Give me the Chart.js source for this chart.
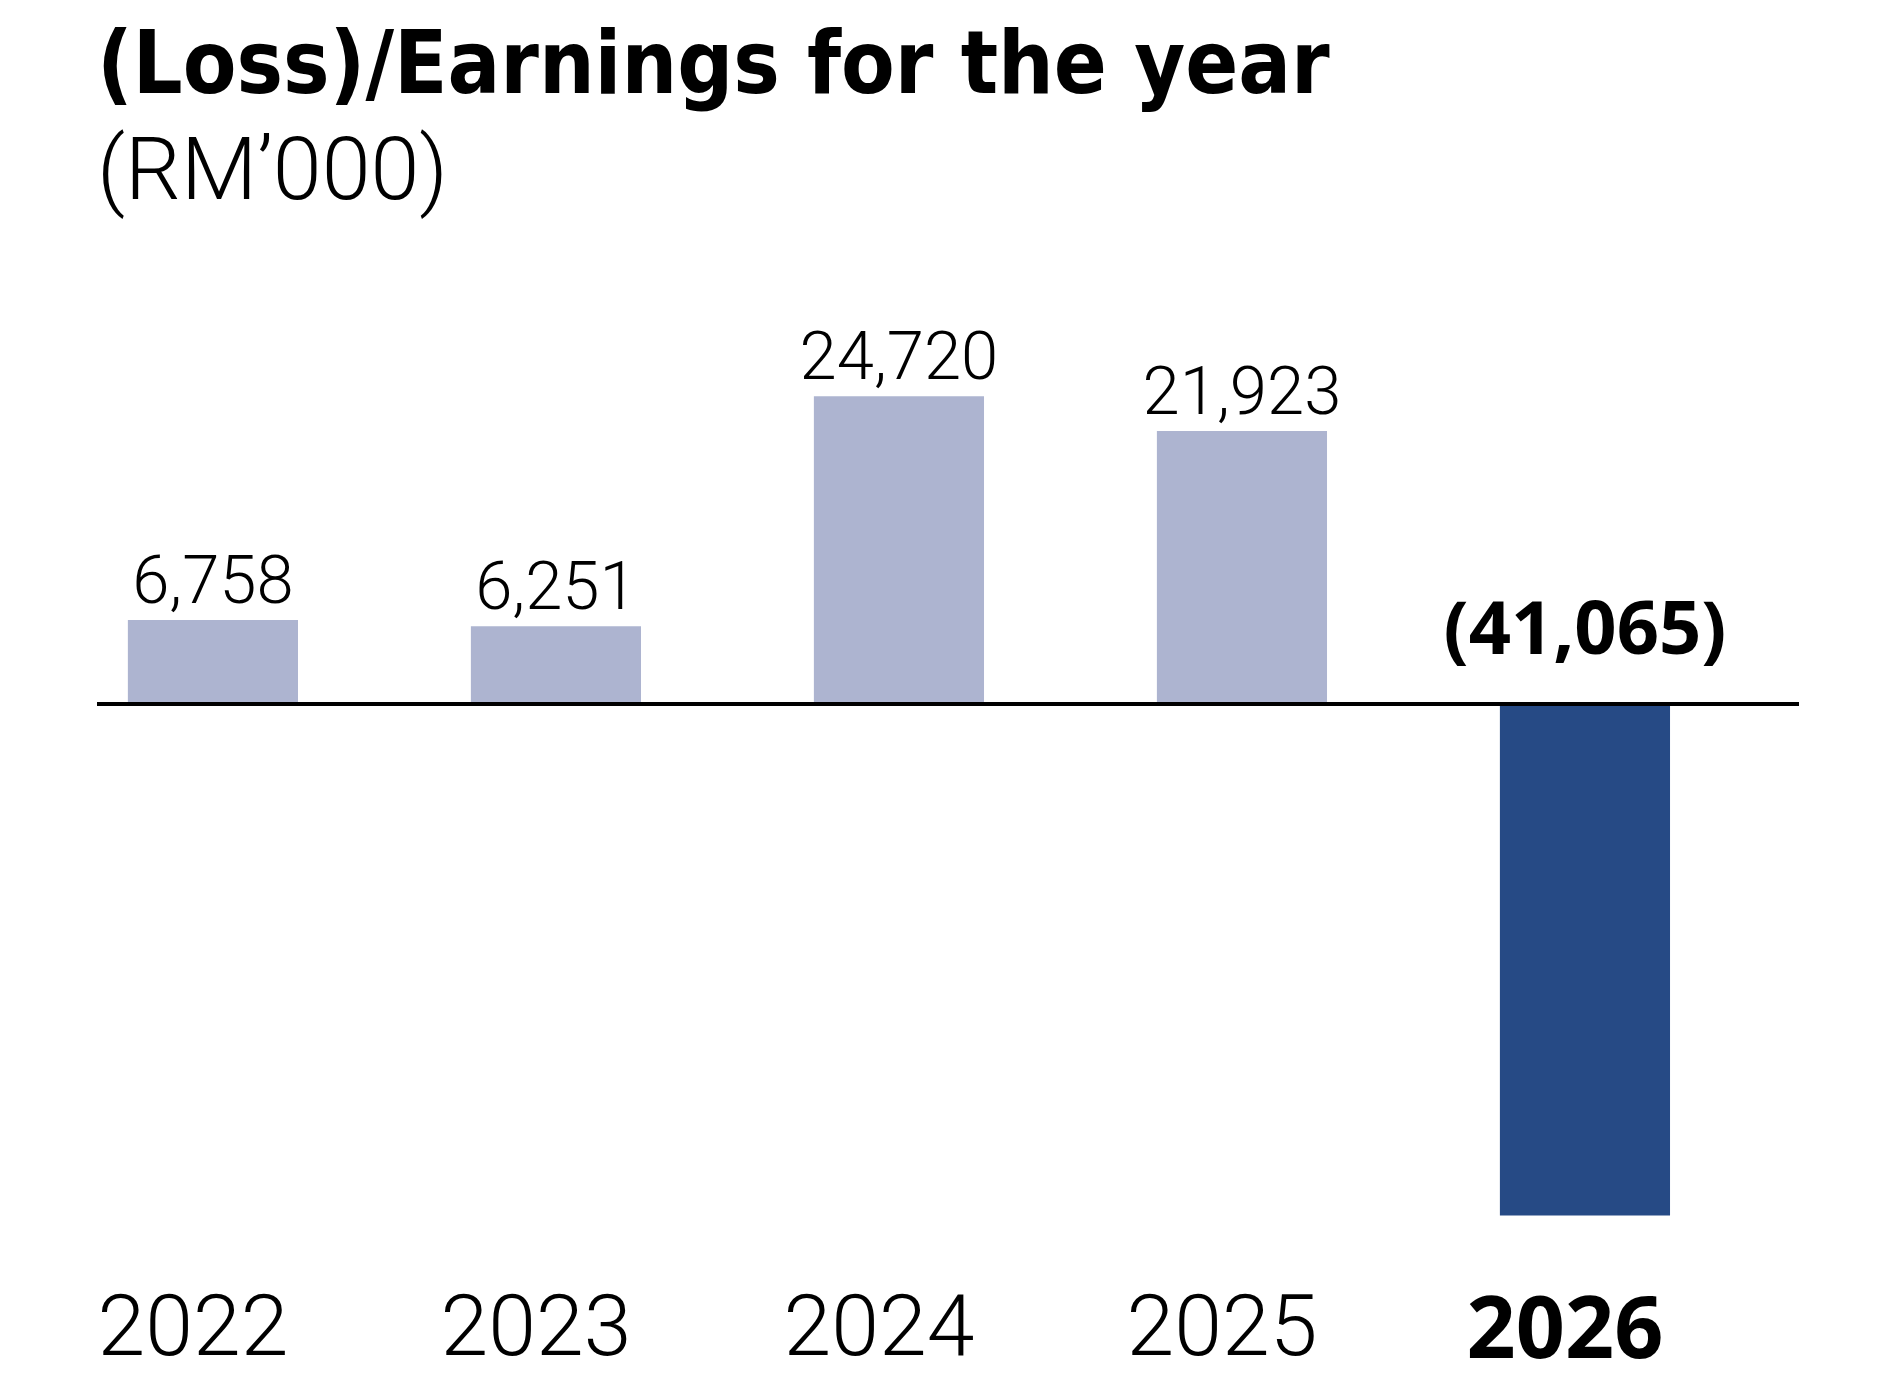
<!DOCTYPE html>
<html>
<head>
<meta charset="utf-8">
<script src="https://cdn.jsdelivr.net/npm/chart.js@4.4.1/dist/chart.umd.min.js"></script>
<style>
  html, body { margin: 0; padding: 0; background: #fff; }
  #wrap { width: 1896px; height: 1384px; }
</style>
</head>
<body>
<div id="wrap"><canvas id="earnings"></canvas></div>
<script>
// (Loss)/Earnings for the year, RM'000
var years = ["2022", "2023", "2024", "2025", "2026"];
var earnings = [6758, 6251, 24720, 21923, -41065];
var barColors = ["#ADB4D0", "#ADB4D0", "#ADB4D0", "#ADB4D0", "#264A85"];

var lightFont = "Roboto, 'Open Sans', sans-serif";
var boldFont = "'Open Sans', Roboto, sans-serif";
var narrowFont = "'Liberation Sans Narrow', 'DejaVu Sans Condensed', sans-serif";

function formatValue(v) {
  var s = Math.abs(v).toLocaleString("en-US");
  return v < 0 ? "(" + s + ")" : s;
}

// value labels: positive above the bar, negative above the zero line
var valueLabels = {
  id: "valueLabels",
  afterDatasetsDraw: function(chart) {
    var ctx = chart.ctx;
    var zeroY = chart.scales.y.getPixelForValue(0);
    var meta = chart.getDatasetMeta(0);
    ctx.save();
    ctx.textAlign = "center";
    ctx.textBaseline = "alphabetic";
    ctx.fillStyle = "#000";
    meta.data.forEach(function(bar, i) {
      var v = earnings[i];
      if (v < 0) {
        ctx.font = "700 74px " + boldFont;
        ctx.fillText(formatValue(v), bar.x, zeroY - 50);
      } else {
        ctx.font = "300 67px " + lightFont;
        ctx.fillText(formatValue(v), bar.x, bar.y - 17);
      }
    });
    ctx.restore();
  }
};

var ctx = document.getElementById("earnings").getContext("2d");
var chart = new Chart(ctx, {
  type: "bar",
  data: {
    datasets: [
      {
        data: earnings.map(function(v, i) { return { x: i, y: v }; }),
        backgroundColor: barColors,
        borderWidth: 0,
        categoryPercentage: 1,
        barPercentage: 0.496
      }
    ]
  },
  options: {
    responsive: true,
    maintainAspectRatio: false,
    animation: false,
    layout: { padding: { left: 97, right: 97, top: 0, bottom: 0 } },
    plugins: {
      legend: { display: false },
      tooltip: { enabled: false },
      title: {
        display: true,
        text: "(Loss)/Earnings for the year",
        align: "start",
        color: "#000",
        font: { family: narrowFont, size: 87, weight: "bold", lineHeight: 1 },
        padding: { top: 27, bottom: 0 }
      },
      subtitle: {
        display: true,
        text: "(RM\u2019000)",
        align: "start",
        color: "#000",
        font: { family: lightFont, size: 88, weight: "300", lineHeight: 1 },
        padding: { top: 19, bottom: 51 }
      }
    },
    scales: {
      x: {
        type: "linear",
        offset: false,
        min: -0.338,
        max: 4.624,
        grid: { display: false, drawTicks: false, offset: false },
        border: { display: false },
        afterBuildTicks: function(scale) {
          scale.ticks = years.map(function(y, i) { return { value: i }; });
        },
        ticks: {
          padding: 20,
          labelOffset: -20,
          color: "#000",
          callback: function(value) { return years[value]; },
          font: function(c) {
            var last = c.index === years.length - 1;
            return last
              ? { family: boldFont, size: 86, weight: "bold", lineHeight: 0.7 }
              : { family: lightFont, size: 86, weight: "300", lineHeight: 0.7 };
          }
        }
      },
      y: {
        min: -46554,
        max: 34696,
        afterBuildTicks: function(scale) {
          scale.ticks = [{ value: 0 }];
        },
        ticks: { display: false },
        border: { display: false },
        grid: { color: "#000", lineWidth: 4, drawTicks: false }
      }
    }
  },
  plugins: [valueLabels]
});
</script>
</body>
</html>
